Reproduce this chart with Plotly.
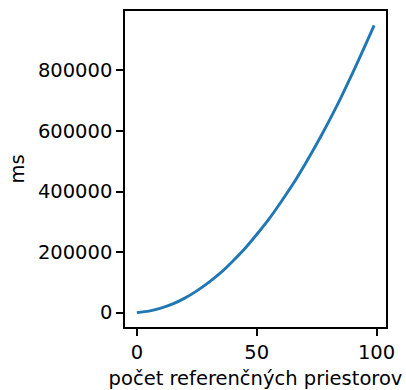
import plotly.graph_objects as go

# data
x_vals = [0, 5, 10, 15, 20, 25, 30, 35, 40, 45, 50, 55, 60, 65, 70, 75, 80, 85, 90, 95, 99]
y_vals = [0, 5000, 15000, 29000, 48000, 72000, 100000, 132000, 170000, 211000, 258000,
          308000, 364000, 423000, 488000, 557000, 630000, 708000, 791000, 878000, 949000]
x_ticks = [0, 50, 100]
y_ticks = [0, 200000, 400000, 600000, 800000]
x_title = "počet referenčných priestorov"
y_title = "ms"

FONT = "DejaVu Sans"
FS = 19.5

fig = go.Figure()
fig.add_trace(go.Scatter(x=x_vals, y=y_vals, mode="lines",
                         line=dict(color="#1f77b4", width=2.9, shape="spline", smoothing=0.6),
                         showlegend=False, hoverinfo="skip"))

xmin, xmax = min(x_vals), max(x_vals)
ymin, ymax = min(y_vals), max(y_vals)
xpad = 0.05 * (xmax - xmin)
ypad = 0.05 * (ymax - ymin)

axis_common = dict(showgrid=False, zeroline=False, showline=True, mirror=True,
                   linecolor="black", linewidth=1.5, ticks="outside", ticklen=7,
                   tickwidth=1.5, tickcolor="black", automargin=False,
                   tickfont=dict(family=FONT, size=FS, color="black"))

fig.update_xaxes(range=[xmin - xpad, xmax + xpad], tickvals=x_ticks,
                 ticktext=[str(v) for v in x_ticks],
                 title=dict(text=x_title, font=dict(family=FONT, size=FS, color="black"), standoff=11),
                 **axis_common)
fig.update_yaxes(range=[ymin - ypad, ymax + ypad], tickvals=y_ticks,
                 ticktext=[str(v) for v in y_ticks],
                 title=dict(text=y_title, font=dict(family=FONT, size=FS, color="black"), standoff=8),
                 **axis_common)

fig.update_layout(width=406, height=390, autosize=False,
                  margin=dict(l=125, r=20, t=11, b=63, pad=0),
                  paper_bgcolor="white", plot_bgcolor="white",
                  font=dict(family=FONT, size=FS, color="black"))

fig.write_html("out.html", config={"displayModeBar": False},
               post_script="document.body.style.margin='0';")
